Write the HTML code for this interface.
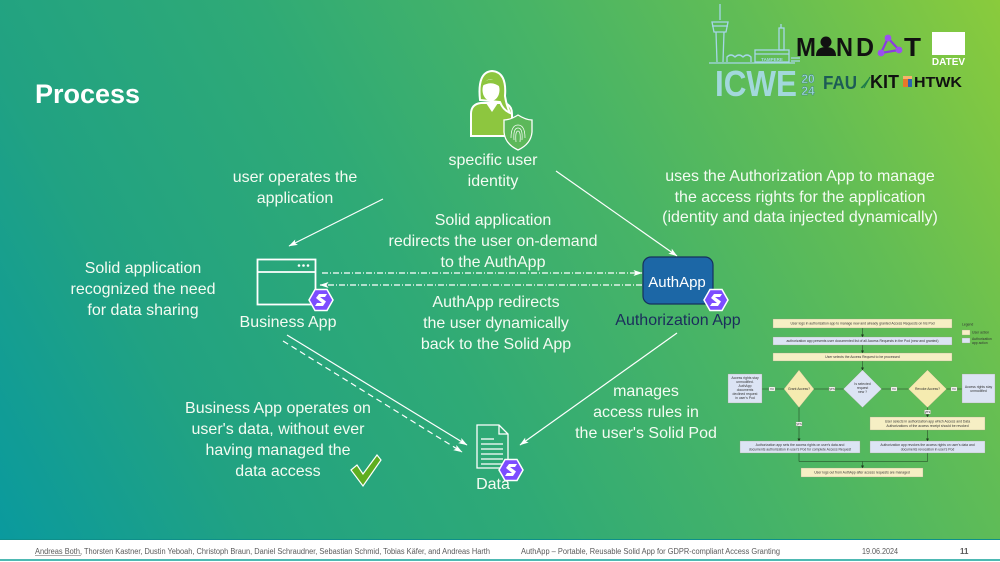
<!DOCTYPE html>
<html>
<head>
<meta charset="utf-8">
<style>
  html,body{margin:0;padding:0;background:#fff;}
  svg{display:block;}
  .t{font-family:"Liberation Sans",sans-serif;font-size:16px;fill:#f4fbf2;text-anchor:middle;}
  .f{font-family:"Liberation Sans",sans-serif;font-size:3.4px;fill:#333;text-anchor:middle;}
  .ft{font-family:"Liberation Sans",sans-serif;font-size:8px;fill:#5a5a5a;}
</style>
</head>
<body>
<svg width="1000" height="562" viewBox="0 0 1000 562" xmlns="http://www.w3.org/2000/svg">
  <defs>
    <linearGradient id="bg" gradientUnits="userSpaceOnUse" x1="0" y1="540" x2="1000" y2="0">
      <stop offset="0" stop-color="#0a9a9e"/>
      <stop offset="0.2" stop-color="#21a282"/>
      <stop offset="0.42" stop-color="#2faa76"/>
      <stop offset="0.63" stop-color="#48b466"/>
      <stop offset="0.8" stop-color="#62bd55"/>
      <stop offset="1" stop-color="#8acb3c"/>
    </linearGradient>
    <marker id="ah" markerUnits="userSpaceOnUse" markerWidth="9" markerHeight="7" refX="8.5" refY="3.5" orient="auto">
      <path d="M0,0.5 L9,3.5 L0,6.5 L2,3.5 Z" fill="#ffffff"/>
    </marker>
    <marker id="fa" markerUnits="userSpaceOnUse" markerWidth="3" markerHeight="3" refX="2.5" refY="1.5" orient="auto">
      <path d="M0,0 L3,1.5 L0,3 Z" fill="#1e3a1e"/>
    </marker>
  </defs>

  <!-- background -->
  <rect x="0" y="0" width="1000" height="540" fill="url(#bg)"/>

  <!-- Title -->
  <text x="35" y="103" font-family="Liberation Sans, sans-serif" font-size="27" font-weight="bold" fill="#ffffff">Process</text>

  <!-- ===== Logos ===== -->
  <g fill="none" stroke="#a6d6e8" stroke-width="1.3">
    <line x1="720" y1="4" x2="720" y2="20"/>
    <path d="M712,22 L728,22 L726,32 L714,32 Z"/>
    <line x1="712" y1="26" x2="728" y2="26"/>
    <path d="M716,32 L717,62 M724,32 L723,62"/>
    <line x1="709" y1="63" x2="795" y2="63"/>
    <path d="M727,62 L727,57 Q731,53 735,57 Q739,53 743,57 Q747,53 751,57 L751,62"/>
    <rect x="755" y="50" width="34" height="12"/>
    <line x1="755" y1="54" x2="789" y2="54"/>
    <rect x="779" y="28" width="5" height="22"/>
    <line x1="781" y1="24" x2="781" y2="28"/>
    <path d="M791,58 L800,58 M791,61 L800,61"/>
  </g>
  <text x="772" y="61" font-family="Liberation Sans, sans-serif" font-size="4.5" font-weight="bold" fill="#a6d6e8" text-anchor="middle">TAMPERE</text>
  <text x="715" y="96" font-family="Liberation Sans, sans-serif" font-size="36" font-weight="bold" fill="#a2d8dc" textLength="82" lengthAdjust="spacingAndGlyphs">ICWE</text>
  <text x="808" y="83" font-family="Liberation Sans, sans-serif" font-size="12" font-weight="bold" fill="#a2d8dc" stroke="#3a7e7a" stroke-width="0.4" text-anchor="middle">20</text>
  <text x="808" y="95" font-family="Liberation Sans, sans-serif" font-size="12" font-weight="bold" fill="#a2d8dc" stroke="#3a7e7a" stroke-width="0.4" text-anchor="middle">24</text>

  <!-- MANDAT -->
  <g font-family="Liberation Sans, sans-serif" font-size="26" font-weight="bold" fill="#111">
    <text x="796" y="56" textLength="20" lengthAdjust="spacingAndGlyphs">M</text>
    <text x="836" y="56" textLength="17" lengthAdjust="spacingAndGlyphs">N</text>
    <text x="856" y="56" textLength="18" lengthAdjust="spacingAndGlyphs">D</text>
    <text x="904" y="56" textLength="17" lengthAdjust="spacingAndGlyphs">T</text>
  </g>
  <circle cx="826" cy="42" r="5.5" fill="#111"/>
  <path d="M816,56 Q816,47 826,47 Q836,47 836,56 Z" fill="#111"/>
  <g stroke="#8a3ce0" stroke-width="2.2" fill="none">
    <path d="M888,38 L881,53 L899,50 Z"/>
  </g>
  <circle cx="888" cy="38" r="3.4" fill="#9b4ff0"/>
  <circle cx="881" cy="53" r="3.4" fill="#9b4ff0"/>
  <circle cx="899" cy="50" r="3.4" fill="#9b4ff0"/>

  <!-- DATEV -->
  <rect x="932" y="32" width="33" height="23" fill="#ffffff"/>
  <text x="948.5" y="65" font-family="Liberation Sans, sans-serif" font-size="10" font-weight="bold" fill="#ffffff" text-anchor="middle">DATEV</text>

  <!-- FAU KIT HTWK -->
  <text x="823" y="89" font-family="Liberation Sans, sans-serif" font-size="18" font-weight="bold" fill="#1d5c56" textLength="34" lengthAdjust="spacingAndGlyphs">FAU</text>
  <g stroke="#1d7a4a" stroke-width="1.2">
    <line x1="864" y1="88" x2="870" y2="77"/>
    <line x1="862" y1="88" x2="868" y2="80"/>
    <line x1="861" y1="88" x2="866" y2="83"/>
  </g>
  <text x="870" y="88" font-family="Liberation Sans, sans-serif" font-size="18" font-weight="bold" fill="#111" textLength="29" lengthAdjust="spacingAndGlyphs">KIT</text>
  <rect x="903" y="79" width="5" height="8" fill="#e8772a"/>
  <rect x="908" y="79" width="4" height="8" fill="#2a62b0"/>
  <rect x="903" y="76" width="9" height="3" fill="#f6b26b"/>
  <text x="914" y="87" font-family="Liberation Sans, sans-serif" font-size="15" font-weight="bold" fill="#111" textLength="48" lengthAdjust="spacingAndGlyphs">HTWK</text>

  <!-- ===== Person icon ===== -->
  <path d="M471,136 L471,114 Q471,104 481,103 L503,103 Q512,104 512,114 L512,136 Z" fill="#8dc63f" stroke="#ffffff" stroke-width="2"/>
  <path d="M486,103 L492,112 L498,103" fill="#ffffff"/>
  <path d="M480,100 Q477,72 492,71 Q507,72 505,96 Q506,104 510,113 Q503,110 500,102 Z" fill="#8dc63f" stroke="#ffffff" stroke-width="2"/>
  <ellipse cx="491" cy="90" rx="8.5" ry="11" fill="#ffffff"/>
  <path d="M482,86 Q486,77 498,80 Q500,84 500,87 Q492,80 482,86 Z" fill="#8dc63f"/>
  <!-- shield -->
  <path d="M518,115 Q510,120 504,120 L504,132 Q505,144 518,150 Q531,144 532,132 L532,120 Q526,120 518,115 Z" fill="#5cb85a" stroke="#ffffff" stroke-width="1.3"/>
  <g fill="none" stroke="#ffffff" stroke-width="0.7">
    <path d="M511,138 Q511,125 518,125 Q525,125 525,138"/>
    <path d="M514,140 Q513,128 518,128 Q523,128 522,140"/>
    <path d="M516,142 Q515,131 518,131 Q521,131 520,142"/>
  </g>

  <!-- ===== Connectors ===== -->
  <g stroke="#ffffff" stroke-width="1.2" fill="none">
    <line x1="383" y1="199" x2="289" y2="246" marker-end="url(#ah)"/>
    <line x1="556" y1="171" x2="677" y2="256" marker-end="url(#ah)"/>
    <line x1="322" y1="273" x2="642" y2="273" stroke-dasharray="6,2,1,2" marker-end="url(#ah)"/>
    <line x1="642" y1="285" x2="320" y2="285" stroke-dasharray="6,2,1,2" marker-end="url(#ah)"/>
    <line x1="287" y1="335" x2="467" y2="445" marker-end="url(#ah)"/>
    <line x1="283" y1="341" x2="462" y2="452" stroke-dasharray="6,4" marker-end="url(#ah)"/>
    <line x1="677" y1="333" x2="520" y2="445" marker-end="url(#ah)"/>
  </g>

  <!-- ===== Business App icon ===== -->
  <rect x="257.5" y="259.5" width="58" height="45" fill="none" stroke="#ffffff" stroke-width="1.8"/>
  <line x1="257.5" y1="272" x2="315.5" y2="272" stroke="#ffffff" stroke-width="1.8"/>
  <circle cx="299" cy="265.5" r="1.3" fill="#fff"/>
  <circle cx="303.5" cy="265.5" r="1.3" fill="#fff"/>
  <circle cx="308" cy="265.5" r="1.3" fill="#fff"/>

  <!-- ===== AuthApp box ===== -->
  <rect x="643" y="257" width="70" height="47" rx="8" ry="8" fill="#1c67a6" stroke="#16305e" stroke-width="1.2"/>
  <text x="677" y="287" font-family="Liberation Sans, sans-serif" font-size="15" fill="#ffffff" text-anchor="middle">AuthApp</text>

  <!-- ===== Data doc ===== -->
  <g fill="none" stroke="#ffffff" stroke-width="1.3">
    <path d="M477,425 L499,425 L508,434 L508,468 L477,468 Z"/>
    <path d="M499,425 L499,434 L508,434"/>
    <line x1="481" y1="439" x2="494" y2="439"/>
    <line x1="481" y1="444" x2="503" y2="444"/>
    <line x1="481" y1="449" x2="503" y2="449"/>
    <line x1="481" y1="454" x2="503" y2="454"/>
    <line x1="481" y1="459" x2="503" y2="459"/>
    <line x1="481" y1="464" x2="503" y2="464"/>
  </g>

  <!-- ===== Solid badges ===== -->
  <g transform="translate(321,300)">
    <path d="M-12,0 L-6,-10.5 L6,-10.5 L12,0 L6,10.5 L-6,10.5 Z" fill="#7c4dff" stroke="#ffffff" stroke-width="1.5"/>
    <path d="M-5,-2 L-2,-6 L6,-6 L4,-3 L-1,-3 L5,1.5 L2,6 L-6,6 L-4,3 L1,3 Z" fill="#ffffff"/>
  </g>
  <g transform="translate(716,300)">
    <path d="M-12,0 L-6,-10.5 L6,-10.5 L12,0 L6,10.5 L-6,10.5 Z" fill="#7c4dff" stroke="#ffffff" stroke-width="1.5"/>
    <path d="M-5,-2 L-2,-6 L6,-6 L4,-3 L-1,-3 L5,1.5 L2,6 L-6,6 L-4,3 L1,3 Z" fill="#ffffff"/>
  </g>
  <g transform="translate(511,470)">
    <path d="M-12,0 L-6,-10.5 L6,-10.5 L12,0 L6,10.5 L-6,10.5 Z" fill="#7c4dff" stroke="#ffffff" stroke-width="1.5"/>
    <path d="M-5,-2 L-2,-6 L6,-6 L4,-3 L-1,-3 L5,1.5 L2,6 L-6,6 L-4,3 L1,3 Z" fill="#ffffff"/>
  </g>

  <!-- checkmark -->
  <path d="M351,470 L357,465 L363,474 L377,455 L381,460 L363,486 Z" fill="#5fae1f" stroke="#ffffff" stroke-width="1.2"/>

  <!-- ===== Labels ===== -->
  <text class="t" x="493" y="165">specific user</text>
  <text class="t" x="493" y="186">identity</text>

  <text class="t" x="295" y="182">user operates the</text>
  <text class="t" x="295" y="203">application</text>

  <text class="t" x="800" y="181">uses the Authorization App to manage</text>
  <text class="t" x="800" y="202">the access rights for the application</text>
  <text class="t" x="800" y="222">(identity and data injected dynamically)</text>

  <text class="t" x="493" y="225">Solid application</text>
  <text class="t" x="493" y="246">redirects the user on-demand</text>
  <text class="t" x="493" y="267">to the AuthApp</text>

  <text class="t" x="143" y="273">Solid application</text>
  <text class="t" x="143" y="294">recognized the need</text>
  <text class="t" x="143" y="315">for data sharing</text>

  <text class="t" x="288" y="327">Business App</text>
  <text x="678" y="325" font-family="Liberation Sans, sans-serif" font-size="16" fill="#1b2d5c" text-anchor="middle">Authorization App</text>

  <text class="t" x="496" y="307">AuthApp redirects</text>
  <text class="t" x="496" y="328">the user dynamically</text>
  <text class="t" x="496" y="349">back to the Solid App</text>

  <text class="t" x="646" y="396">manages</text>
  <text class="t" x="646" y="417">access rules in</text>
  <text class="t" x="646" y="438">the user's Solid Pod</text>

  <text class="t" x="278" y="413">Business App operates on</text>
  <text class="t" x="278" y="434">user's data, without ever</text>
  <text class="t" x="278" y="455">having managed the</text>
  <text class="t" x="278" y="476">data access</text>

  <text class="t" x="493" y="489">Data</text>

  <!-- ===== Flowchart ===== -->
  <g stroke="#1e3a1e" stroke-width="0.5" fill="none">
    <line x1="862.5" y1="328" x2="862.5" y2="337" marker-end="url(#fa)"/>
    <line x1="862.5" y1="345" x2="862.5" y2="353" marker-end="url(#fa)"/>
    <line x1="862.5" y1="361" x2="862.5" y2="370" marker-end="url(#fa)"/>
    <line x1="762" y1="389" x2="962" y2="389"/>
    <line x1="799" y1="407" x2="799" y2="441" marker-end="url(#fa)"/>
    <line x1="927.5" y1="407" x2="927.5" y2="417" marker-end="url(#fa)"/>
    <line x1="927.5" y1="430" x2="927.5" y2="441" marker-end="url(#fa)"/>
    <path d="M799,453 L799,461.5 L927.5,461.5 L927.5,453"/>
    <line x1="862.5" y1="461.5" x2="862.5" y2="468" marker-end="url(#fa)"/>
  </g>
  <g stroke="#9a9a80" stroke-width="0.3">
    <rect x="773" y="319" width="179" height="9" fill="#f6efc4"/>
    <rect x="773" y="337" width="179" height="8" fill="#dce4f4"/>
    <rect x="773" y="353" width="179" height="8" fill="#f6efc4"/>
    <path d="M799,370 L814,389 L799,407.5 L784,389 Z" fill="#f5ebb0"/>
    <path d="M862.5,370 L881.5,389 L862.5,407.5 L843.5,389 Z" fill="#dce4f4"/>
    <path d="M927.5,370 L946.5,389 L927.5,407.5 L908.5,389 Z" fill="#f5ebb0"/>
    <rect x="728" y="374" width="34" height="29" fill="#dce4f4"/>
    <rect x="962" y="374" width="33" height="29" fill="#dce4f4"/>
    <rect x="870" y="417" width="115" height="13" fill="#f6efc4"/>
    <rect x="740" y="441" width="120" height="12" fill="#dce4f4"/>
    <rect x="870" y="441" width="115" height="12" fill="#dce4f4"/>
    <rect x="801" y="468" width="122" height="9" fill="#f6efc4"/>
    <rect x="962" y="330" width="8" height="5" fill="#f6efc4"/>
    <rect x="962" y="338" width="8" height="5" fill="#dce4f4"/>
    <rect x="769" y="387" width="6" height="4" fill="#ffffff"/>
    <rect x="829" y="387" width="6" height="4" fill="#ffffff"/>
    <rect x="891" y="387" width="6" height="4" fill="#ffffff"/>
    <rect x="951" y="387" width="6" height="4" fill="#ffffff"/>
    <rect x="796" y="422" width="6" height="4" fill="#ffffff"/>
    <rect x="924.5" y="410" width="6" height="4" fill="#ffffff"/>
  </g>
  <g class="f">
    <text class="f" x="862.5" y="324.7">User logs in authorization app to manage new and already granted Access Requests on his Pod</text>
    <text class="f" x="862.5" y="342.2">authorization app presents user documented list of all Access Requests in the Pod (new and granted)</text>
    <text class="f" x="862.5" y="358.2">User selects the Access Request to be processed</text>
    <text class="f" x="799" y="390.2">Grant Access?</text>
    <text class="f" x="862.5" y="385">Is selected</text>
    <text class="f" x="862.5" y="389">request</text>
    <text class="f" x="862.5" y="393">new ?</text>
    <text class="f" x="927.5" y="390.2">Revoke Access?</text>
    <text class="f" x="745" y="379">Access rights stay</text>
    <text class="f" x="745" y="383">unmodified.</text>
    <text class="f" x="745" y="387">AuthApp</text>
    <text class="f" x="745" y="391">documents</text>
    <text class="f" x="745" y="395">declined request</text>
    <text class="f" x="745" y="399">in user's Pod</text>
    <text class="f" x="978.5" y="388">Access rights stay</text>
    <text class="f" x="978.5" y="392">unmodified</text>
    <text class="f" x="927.5" y="422.5">User selects in authorization app which Access and Data</text>
    <text class="f" x="927.5" y="426.8">Authorizations of the access receipt should be revoked</text>
    <text class="f" x="800" y="446">Authorization app sets the access rights on user's data and</text>
    <text class="f" x="800" y="450.3">documents authorization in user's Pod for complete Access Request</text>
    <text class="f" x="927.5" y="446">Authorization app revokes the access rights on user's data and</text>
    <text class="f" x="927.5" y="450.3">documents revocation in user's Pod</text>
    <text class="f" x="862" y="473.7">User logs out from AuthApp after access requests are managed</text>
    <text class="f" x="772" y="390.2">no</text>
    <text class="f" x="832" y="390.2">yes</text>
    <text class="f" x="894" y="390.2">no</text>
    <text class="f" x="954" y="390.2">no</text>
    <text class="f" x="799" y="425.2">yes</text>
    <text class="f" x="927.5" y="413.2">yes</text>
    <text class="f" x="962" y="325.5" style="text-anchor:start">Legend</text>
    <text class="f" x="972" y="333.5" style="text-anchor:start">User action</text>
    <text class="f" x="972" y="340" style="text-anchor:start">Authorization</text>
    <text class="f" x="972" y="344" style="text-anchor:start">app action</text>
  </g>

  <!-- ===== Footer ===== -->
  <rect x="0" y="539" width="1000" height="23" fill="#ffffff"/>
  <line x1="0" y1="539.5" x2="1000" y2="539.5" stroke="#0f8f8a" stroke-width="1"/>
  <line x1="0" y1="560" x2="1000" y2="560" stroke="#14a29a" stroke-width="1.5"/>
  <text class="ft" x="35" y="554" textLength="455" lengthAdjust="spacingAndGlyphs">Andreas Both, Thorsten Kastner, Dustin Yeboah, Christoph Braun, Daniel Schraudner, Sebastian Schmid, Tobias Käfer, and Andreas Harth</text>
  <line x1="35" y1="555.5" x2="81" y2="555.5" stroke="#5a5a5a" stroke-width="0.6"/>
  <text class="ft" x="521" y="554" textLength="259" lengthAdjust="spacingAndGlyphs">AuthApp – Portable, Reusable Solid App for GDPR-compliant Access Granting</text>
  <text class="ft" x="862" y="554" textLength="36" lengthAdjust="spacingAndGlyphs">19.06.2024</text>
  <text class="ft" x="960" y="554" font-weight="bold" fill="#222">11</text>
</svg>
</body>
</html>
